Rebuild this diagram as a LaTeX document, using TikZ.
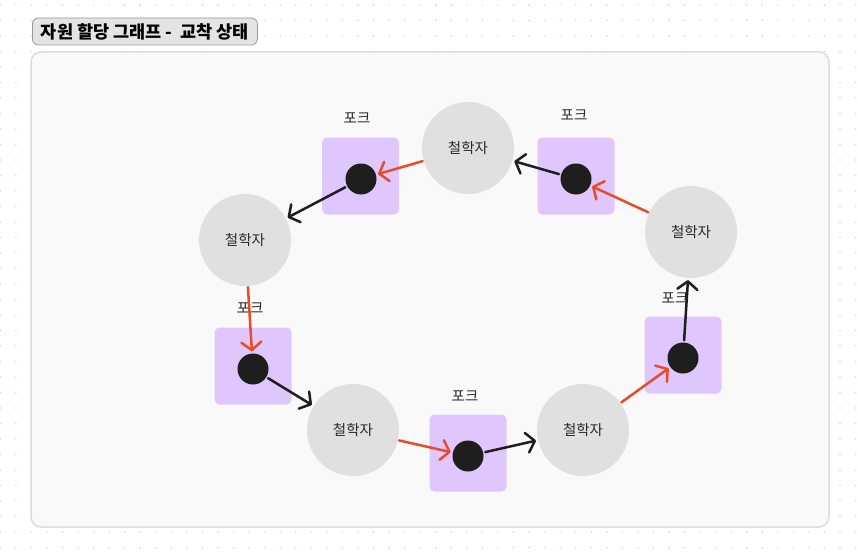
\documentclass[tikz,border=0pt]{standalone}
\usepackage{fontspec}
\setmainfont{Noto Sans CJK KR}
\usetikzlibrary{arrows.meta}
\definecolor{philfill}{HTML}{E0E0E0}
\definecolor{forkfill}{HTML}{DFC7FD}
\definecolor{dotc}{HTML}{1E1E1E}
\definecolor{reqc}{HTML}{E54D28}
\definecolor{holdc}{HTML}{1E1E1E}
\definecolor{txt}{HTML}{2A2A2A}
\definecolor{gridc}{HTML}{D2D2D2}
\definecolor{panelfill}{HTML}{F9F9F9}
\definecolor{panelline}{HTML}{DCDCDC}
\definecolor{titlefill}{HTML}{E4E4E4}
\definecolor{titleline}{HTML}{9A9A9A}
\begin{document}
\begin{tikzpicture}[x=1pt,y=-1pt,
  phil/.style={circle, fill=philfill, minimum size=92pt, inner sep=0pt, font=\fontsize{14.5}{16}\selectfont, text=txt},
  forkbox/.style={rounded corners=5pt, fill=forkfill, minimum size=77pt, inner sep=0pt},
  forkdot/.style={circle, fill=dotc, minimum size=31pt, inner sep=0pt},
  forklabel/.style={font=\fontsize{14.5}{16}\selectfont, text=txt, inner sep=0pt},
  req/.style={draw=reqc, line width=2.5pt, line cap=round, -{Straight Barb[length=8pt,width=20pt,line cap=round,line join=round]}, shorten >=2pt, shorten <=1pt},
  hold/.style={draw=holdc, line width=2.5pt, line cap=round, -{Straight Barb[length=8pt,width=20pt,line cap=round,line join=round]}, shorten >=2pt, shorten <=2pt}
]
\useasboundingbox (0,0) rectangle (858,559);
\fill[white] (0,0) rectangle (858,559);
% dot grid
\foreach \i in {0,...,55}{
  \foreach \j in {0,...,36}{
    \fill[gridc] (0.3+15.55*\i, 5+15.5*\j) circle (0.8pt);
  }
}
% panel
\draw[fill=panelfill, draw=panelline, line width=1.5pt, rounded corners=10pt] (31,52) rectangle (829,527);
% title
\node[draw=titleline, fill=titlefill, rounded corners=6pt, line width=0.8pt, minimum height=27pt, minimum width=225pt, inner xsep=6pt, inner ysep=0pt, anchor=west, font=\fontsize{17.5}{19}\selectfont\bfseries, text=black] (title) at (32,31.5) {자원 할당 그래프 -\ \ 교착 상태};
% philosophers
\node[phil] (p1) at (468,148) {철학자};
\node[phil] (p2) at (245,240) {철학자};
\node[phil] (p3) at (353,430) {철학자};
\node[phil] (p4) at (583,430) {철학자};
\node[phil] (p5) at (691,232) {철학자};
% forks
\node[forkbox] (f1) at (360.5,176) {};
\node[forkbox] (f2) at (576,176) {};
\node[forkbox] (f3) at (253,366) {};
\node[forkbox] (f4) at (468,453) {};
\node[forkbox] (f5) at (683,355) {};
\node[forkdot] (d1) at (361,179) {};
\node[forkdot] (d2) at (576,179) {};
\node[forkdot] (d3) at (253,369) {};
\node[forkdot] (d4) at (468,456) {};
\node[forkdot] (d5) at (683,358) {};
\node[forklabel] (l1) at (357,118) {포크};
\node[forklabel] (l2) at (574,115) {포크};
\node[forklabel] (l3) at (250,308) {포크};
\node[forklabel] (l4) at (465,396) {포크};
\node[forklabel] (l5) at (675,298) {포크};
% request edges (philosopher -> fork)
\draw[req] (p1) -- (d1);
\draw[req] (p2) -- (d3);
\draw[req] (p3) -- (d4);
\draw[req] (p4) -- (d5);
\draw[req] (p5) -- (d2);
% hold edges (fork -> philosopher)
\draw[hold] (d1) -- (p2);
\draw[hold] (d3) -- (p3);
\draw[hold] (d4) -- (p4);
\draw[hold] (d5) -- (p5);
\draw[hold] (d2) -- (p1);
\end{tikzpicture}
\end{document}
